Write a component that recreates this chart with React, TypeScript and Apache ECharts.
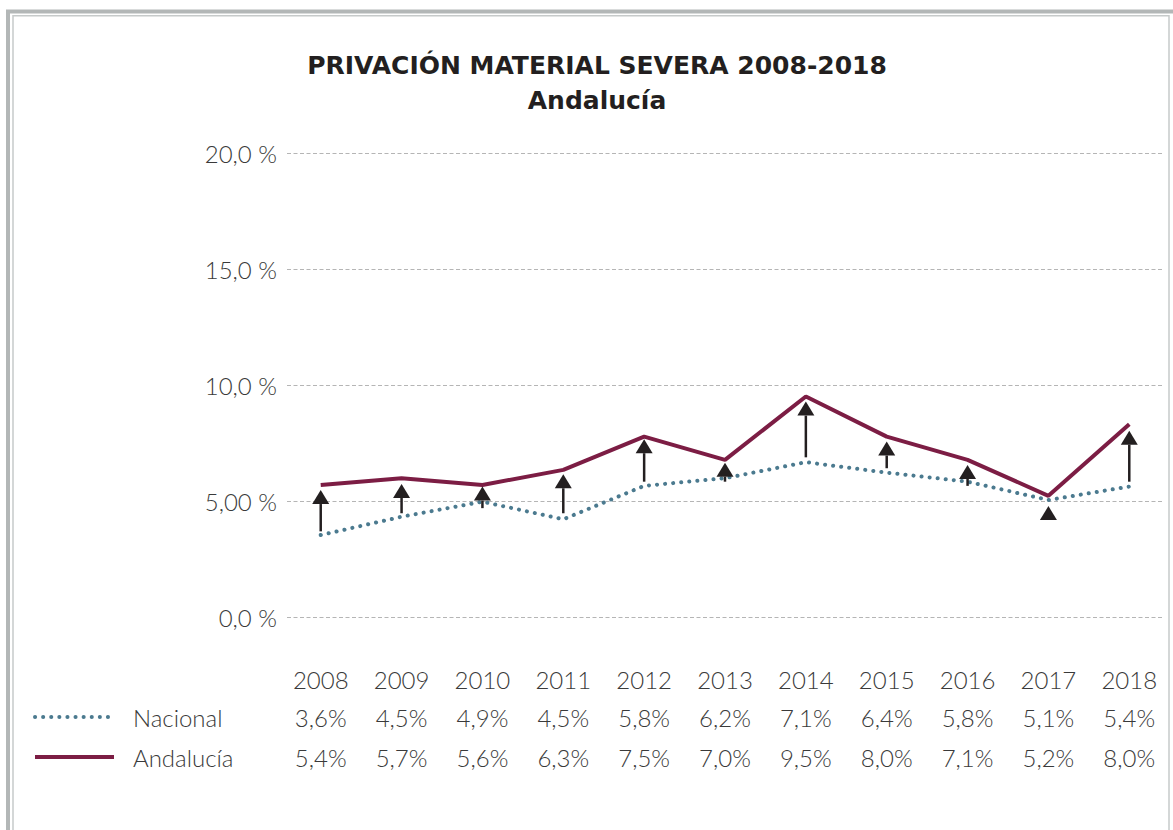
import React, { useEffect, useRef } from "react";
import * as echarts from "echarts";

const years = [2008, 2009, 2010, 2011, 2012, 2013, 2014, 2015, 2016, 2017, 2018];
const yearLabels = ["2008", "2009", "2010", "2011", "2012", "2013", "2014", "2015", "2016", "2017", "2018"];
// plotted values
const nacionalPlot = [3.56, 4.35, 5.0, 4.24, 5.68, 6.01, 6.7, 6.25, 5.86, 5.07, 5.65];
const andaluciaPlot = [5.72, 6.01, 5.72, 6.37, 7.8, 6.8, 9.53, 7.8, 6.8, 5.25, 8.33];
// table values (as printed)
const nacionalTable = ["3,6%", "4,5%", "4,9%", "4,5%", "5,8%", "6,2%", "7,1%", "6,4%", "5,8%", "5,1%", "5,4%"];
const andaluciaTable = ["5,4%", "5,7%", "5,6%", "6,3%", "7,5%", "7,0%", "9,5%", "8,0%", "7,1%", "5,2%", "8,0%"];
// arrows: start and tip values
const arrowFrom = [3.72, 4.5, 4.72, 4.5, 5.86, 5.86, 6.91, 6.44, 5.68, 4.21, 5.86];
const arrowTo = [5.5, 5.76, 5.65, 6.18, 7.69, 6.68, 9.31, 7.59, 6.58, 4.81, 8.06];
const yTickLabels = ["0,0 %", "5,00 %", "10,0 %", "15,0 %", "20,0 %"];

const FONT = "Lato";

export default function App() {
  const ref = useRef<HTMLDivElement>(null);
  useEffect(() => {
    const chart = echarts.init(ref.current!, null, { renderer: "svg" });
    const tableAxis = (data: string[], offset: number) => ({
      type: "category",
      gridIndex: 1,
      position: "bottom",
      offset,
      data,
      boundaryGap: true,
      axisLine: { show: false },
      axisTick: { show: false },
      axisLabel: {
        margin: 0,
        fontFamily: FONT,
        fontWeight: 300,
        fontSize: 24,
        color: "#3a3a3a",
        interval: 0,
        verticalAlign: "middle",
      },
    });
    chart.setOption({
      animation: false,
      backgroundColor: "#ffffff",
      title: {
        text: "PRIVACIÓN MATERIAL SEVERA 2008-2018\nAndalucía",
        left: 592,
        textAlign: "center",
        top: 43,
        textStyle: {
          fontFamily: "DejaVu Sans",
          fontWeight: "bold",
          fontSize: 25,
          lineHeight: 35,
          color: "#231f20",
        },
      },
      legend: {
        orient: "vertical",
        left: 28,
        top: 699,
        itemWidth: 79,
        itemHeight: 14,
        itemGap: 14,
        data: ["Nacional", "Andalucía"],
        itemStyle: { opacity: 0 },
        lineStyle: { width: 4 },
        textStyle: {
          fontFamily: FONT,
          fontWeight: 300,
          fontSize: 24,
          lineHeight: 26,
          color: "#3a3a3a",
          padding: [0, 0, 0, 14],
        },
      },
      grid: [
        { left: 287, right: 10, top: 153.5, height: 464.2 },
        { left: 280.3, right: 3.3, top: 617.7, height: 1 },
      ],
      xAxis: [
        {
          type: "value",
          gridIndex: 0,
          min: 2007.583,
          max: 2018.417,
          show: false,
        },
        tableAxis(yearLabels, 60.5),
        tableAxis(nacionalTable, 99),
        tableAxis(andaluciaTable, 139),
      ],
      yAxis: [
        {
          type: "value",
          gridIndex: 0,
          min: 0,
          max: 20,
          interval: 5,
          axisLine: { show: false },
          axisTick: { show: false },
          axisLabel: {
            margin: 10,
            fontFamily: FONT,
            fontWeight: 300,
            fontSize: 24,
            color: "#3a3a3a",
            formatter: (v: number) => yTickLabels[Math.round(v / 5)],
          },
          splitLine: {
            lineStyle: { color: "#b5b5b5", width: 1, type: [4, 2.5] },
          },
        },
        { type: "value", gridIndex: 1, show: false },
      ],
      graphic: [
        {
          type: "rect",
          shape: { x: 8, y: 11.5, width: 1200, height: 900 },
          style: { fill: "none", stroke: "#b3b7b7", lineWidth: 4 },
          silent: true,
        },
        {
          type: "rect",
          shape: { x: 13, y: 15.7, width: 1156, height: 900 },
          style: { fill: "none", stroke: "#c6caca", lineWidth: 1.5 },
          silent: true,
        },
      ],
      series: [
        {
          name: "Nacional",
          type: "line",
          xAxisIndex: 0,
          yAxisIndex: 0,
          symbol: "none",
          data: years.map((y, i) => [y, nacionalPlot[i]]),
          lineStyle: { color: "#4b7a8f", width: 4, type: [0.1, 8], cap: "round" },
          itemStyle: { color: "#4b7a8f" },
          z: 2,
        },
        {
          name: "Andalucía",
          type: "line",
          xAxisIndex: 0,
          yAxisIndex: 0,
          symbol: "none",
          data: years.map((y, i) => [y, andaluciaPlot[i]]),
          lineStyle: { color: "#7c1d44", width: 4 },
          itemStyle: { color: "#7c1d44" },
          z: 3,
        },
        {
          name: "arrows",
          type: "custom",
          xAxisIndex: 0,
          yAxisIndex: 0,
          z: 4,
          encode: { x: 0, y: [1, 2] },
          data: years.map((y, i) => [y, arrowFrom[i], arrowTo[i]]),
          renderItem: (params: any, api: any) => {
            const x = api.value(0);
            const p0 = api.coord([x, api.value(1)]);
            const p1 = api.coord([x, api.value(2)]);
            const headH = 14;
            const headW = 17;
            return {
              type: "group",
              children: [
                {
                  type: "line",
                  shape: { x1: p0[0], y1: p0[1], x2: p1[0], y2: Math.min(p0[1], p1[1] + headH) },
                  style: { stroke: "#231f20", lineWidth: 2.5 },
                },
                {
                  type: "polygon",
                  shape: {
                    points: [
                      [p1[0], p1[1]],
                      [p1[0] - headW / 2, p1[1] + headH],
                      [p1[0] + headW / 2, p1[1] + headH],
                    ],
                  },
                  style: { fill: "#231f20" },
                },
              ],
            };
          },
        },
      ],
    });
    return () => chart.dispose();
  }, []);
  return (
    <div
      ref={ref}
      style={{ position: "fixed", left: 0, top: 0, width: 1173, height: 830 }}
    />
  );
}
